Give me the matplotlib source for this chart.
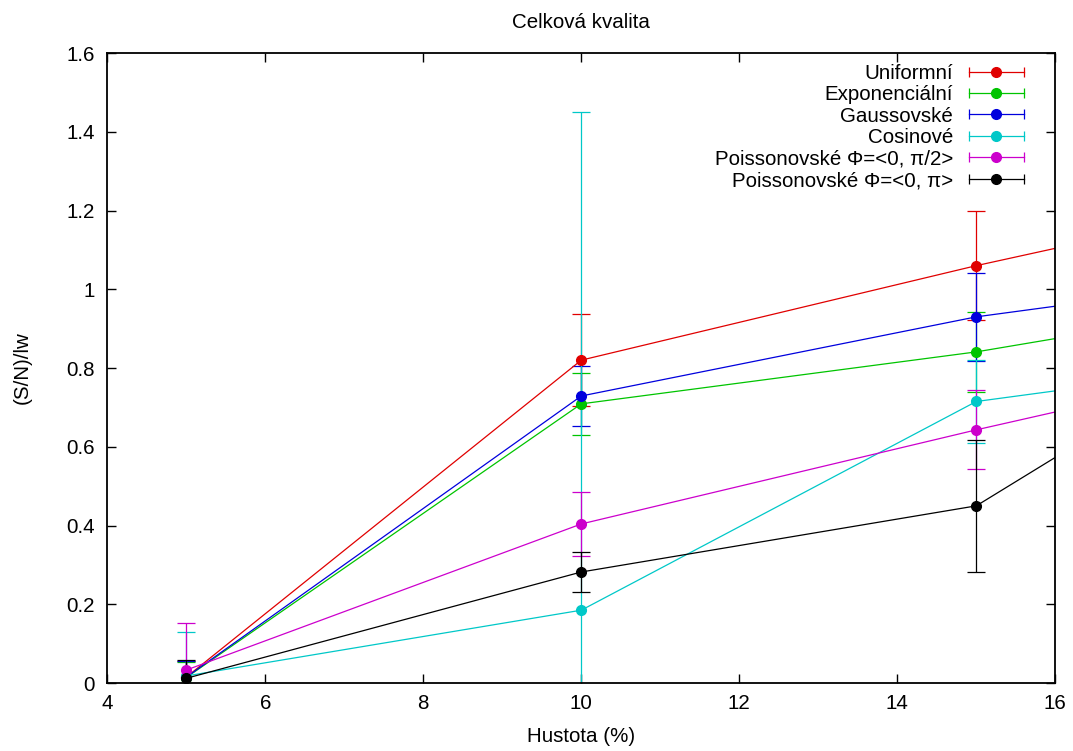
import numpy as np
import matplotlib.pyplot as plt
from matplotlib.lines import Line2D
from matplotlib.legend_handler import HandlerLine2D, HandlerTuple

plt.rcParams['font.family'] = ['Liberation Sans', 'DejaVu Sans']

# DATA (the point at x=20 lies outside the visible range)
hustota = [5, 10, 15, 20]

nazvy = ["Uniformní", "Exponenciální", "Gaussovské", "Cosinové",
         "Poissonovské Φ=<0, π/2>", "Poissonovské Φ=<0, π>"]

uniformni = [0.015, 0.820, 1.060, 1.280]
uniformni_err = [0.040, 0.117, 0.139, 0.0]

exponencialni = [0.014, 0.709, 0.841, 1.010]
exponencialni_err = [0.040, 0.078, 0.102, 0.0]

gaussovske = [0.015, 0.729, 0.930, 1.065]
gaussovske_err = [0.040, 0.077, 0.112, 0.0]

cosinove = [0.018, 0.185, 0.715, 0.850]
cosinove_err = [0.112, 1.265, 0.105, 0.0]

poisson_pul = [0.033, 0.404, 0.643, 0.870]
poisson_pul_err = [0.119, 0.082, 0.100, 0.0]

poisson_pi = [0.012, 0.282, 0.450, 1.065]
poisson_pi_err = [0.046, 0.051, 0.168, 0.0]

hodnoty = [uniformni, exponencialni, gaussovske, cosinove, poisson_pul, poisson_pi]
chyby = [uniformni_err, exponencialni_err, gaussovske_err, cosinove_err,
         poisson_pul_err, poisson_pi_err]
barvy = ['#e00000', '#00c400', '#0000dd', '#00c8c8', '#cc00cc', '#000000']

FS = 14.8

fig = plt.figure(figsize=(10.73, 7.51), dpi=100)
ax = fig.add_axes([0.1, 0.0905, 0.8835, 0.8389])

handles = []
handler_map = {}
for y, e, c, n in zip(hodnoty, chyby, barvy, nazvy):
    ax.errorbar(hustota, y, yerr=e, color=c, linewidth=0.9, elinewidth=0.9,
                capsize=6.5, capthick=0.9, marker='o', markersize=7)
    # LEGEND SAMPLE LIKE GNUPLOT: HORIZONTAL BAR WITH CAPS + DOT
    bar = Line2D([], [], color=c, linewidth=0.9, marker='|', markersize=7,
                 markeredgewidth=0.9)
    dot = Line2D([], [], color=c, linestyle='none', marker='o', markersize=7)
    handler_map[bar] = HandlerLine2D(numpoints=2)
    handler_map[dot] = HandlerLine2D(numpoints=1)
    handles.append((bar, dot))

handler_map[tuple] = HandlerTuple(ndivide=1, pad=0)

ax.set_xlim(4, 16)
ax.set_ylim(0, 1.6)
ax.set_xticks(np.arange(4, 17, 2))
ax.set_yticks(np.arange(0, 1.61, 0.2))
ax.set_yticklabels(["0", "0.2", "0.4", "0.6", "0.8", "1", "1.2", "1.4", "1.6"])

ax.tick_params(direction='in', length=6.5, width=1, top=True, right=True,
               labelsize=FS)
ax.tick_params(axis='y', pad=9)
ax.tick_params(axis='x', pad=8)
for s in ax.spines.values():
    s.set_linewidth(1.3)

ax.set_title("Celková kvalita", fontsize=FS, pad=18)
ax.set_xlabel("Hustota (%)", fontsize=FS, labelpad=10)
ax.set_ylabel("(S/N)/lw", fontsize=FS, labelpad=25)

ax.legend(handles, nazvy, handler_map=handler_map, loc='upper right',
          bbox_to_anchor=(0.9736, 0.983), frameon=False, markerfirst=False,
          fontsize=FS, handlelength=3.3, handletextpad=0.45, labelspacing=0.12,
          borderpad=0, borderaxespad=0)

plt.savefig("out.png", dpi=100)
